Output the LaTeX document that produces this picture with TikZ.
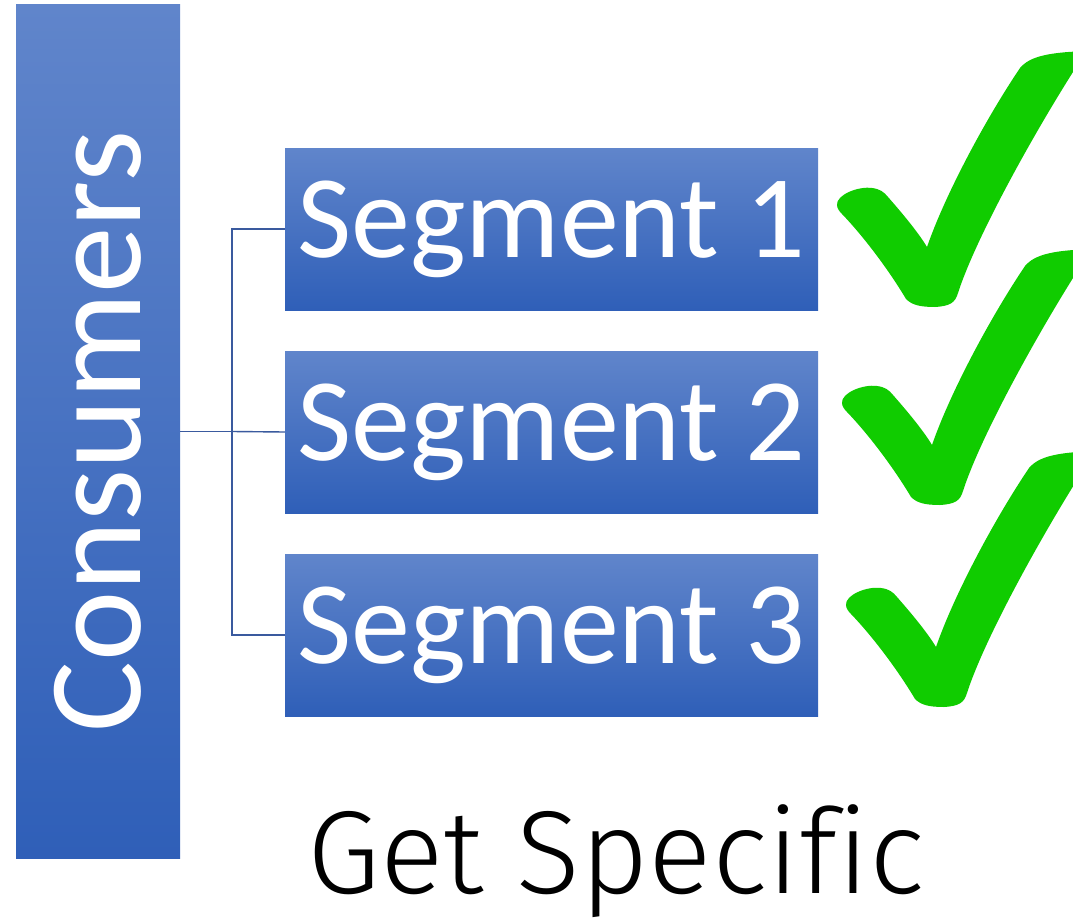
\documentclass[tikz,border=0pt]{standalone}
\usepackage{fontspec}
\setmainfont{Carlito}
\newfontfamily\getfont{Fira Sans}[UprightFont=* Light, Ligatures=NoCommon]
\definecolor{boxtop}{HTML}{6085CB}
\definecolor{boxbot}{HTML}{2F5FB8}
\definecolor{linkblue}{HTML}{3A5A9E}
\definecolor{tickgreen}{HTML}{10CC00}
\tikzset{
  bluebox/.style={rectangle, top color=boxtop, bottom color=boxbot, draw=none, text=white, inner sep=0pt},
  link/.style={draw=linkblue, line width=1.4pt},
  tickmark/.pic={
    \fill[tickgreen] (837,205) .. controls (836,195) and (858,186) .. (872,188)
      .. controls (880,189) and (884,192) .. (888,197)
      .. controls (902,213) and (918,232) .. (927,247)
      .. controls (945,195) and (985,120) .. (1020,68)
      .. controls (1030,56) and (1050,52) .. (1090,51)
      -- (1090,70) -- (1073,72)
      .. controls (1030,140) and (975,240) .. (958,293)
      .. controls (955,303) and (950,306) .. (935,307)
      .. controls (920,307) and (912,305) .. (906,299)
      .. controls (890,272) and (865,238) .. (842,214)
      .. controls (839,211) and (837,208) .. cycle;
  }
}
\begin{document}
\begin{tikzpicture}[x=1pt,y=-1pt]
\useasboundingbox (0,0) rectangle (1073,923);
\clip (0,0) rectangle (1073,923);
\fill[white] (0,0) rectangle (1073,923);
\node[bluebox, minimum width=164pt, minimum height=853pt] (cons) at (98,431.5)
  {\rotatebox{90}{\fontsize{133}{133}\selectfont Consumers}};
\node[bluebox, minimum width=533pt, minimum height=162pt] (s1) at (551.5,229)
  {\fontsize{118}{118}\selectfont Segment 1};
\node[bluebox, minimum width=533pt, minimum height=162pt] (s2) at (551.5,432)
  {\fontsize{118}{118}\selectfont Segment 2};
\node[bluebox, minimum width=533pt, minimum height=162pt] (s3) at (551.5,635)
  {\fontsize{118}{118}\selectfont Segment 3};
\coordinate (j) at (232,431.5);
\draw[link] (cons.east) -- (j);
\draw[link] (j) -- (s2.west);
\draw[link] (j) |- (s1.west);
\draw[link] (j) |- (s3.west);
\pic at (0,0) {tickmark};
\pic at (5,198) {tickmark};
\pic at (9,400) {tickmark};
\node[anchor=base, inner sep=0pt] (title) at (616,893)
  {\getfont\fontsize{118}{118}\selectfont Get Specific};
\end{tikzpicture}
\end{document}
